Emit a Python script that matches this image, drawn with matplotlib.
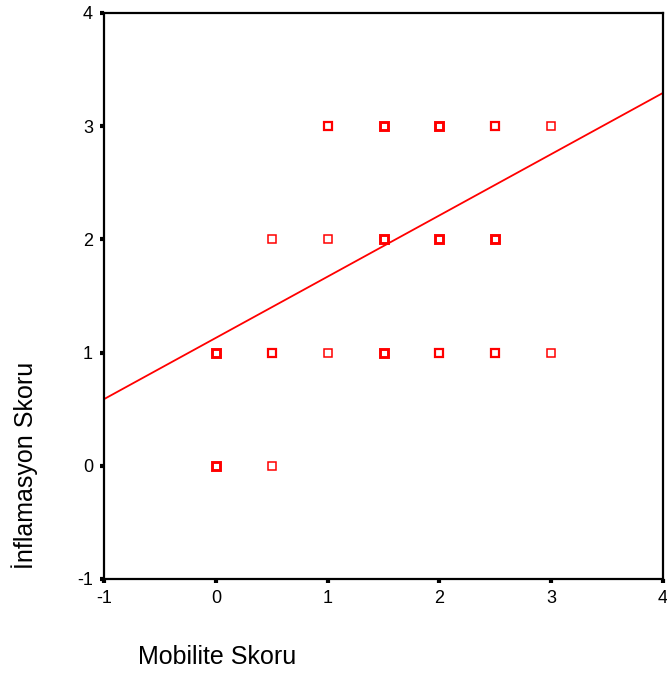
import numpy as np
import matplotlib
matplotlib.use("Agg")
import matplotlib.pyplot as plt

plt.rcParams['font.family'] = ['Liberation Sans', 'DejaVu Sans']

# Observed score pairs and how many cases fall on each pair
mobilite = [0, 0.5, 0, 0.5, 1, 1.5, 2, 2.5, 3, 0.5, 1, 1.5, 2, 2.5, 1, 1.5, 2, 2.5, 3]
inflamasyon = [0, 0, 1, 1, 1, 1, 1, 1, 1, 2, 2, 2, 2, 2, 3, 3, 3, 3, 3]
counts = [3, 1, 3, 2, 1, 3, 2, 2, 1, 1, 1, 3, 3, 3, 2, 3, 3, 2, 1]

# Fitted linear regression
intercept = 1.13
slope = 0.541

x_ticks = [-1, 0, 1, 2, 3, 4]
y_ticks = [-1, 0, 1, 2, 3, 4]

fig = plt.figure(figsize=(6.67, 6.73), dpi=100)
ax = fig.add_axes([0.156, 0.1397, 0.838, 0.841])

for x, y, c in zip(mobilite, inflamasyon, counts):
    lw = 1.1 if c == 1 else (1.6 if c == 2 else 2.1)
    ax.plot(x, y, marker='s', markersize=6, markerfacecolor='white',
            markeredgecolor='#ff0000', markeredgewidth=lw, linestyle='none')

xl = np.array([-1, 4])
ax.plot(xl, intercept + slope * xl, color='#ff0000', linewidth=1.3)

ax.set_xlim(-1, 4)
ax.set_ylim(-1, 4)
ax.set_xticks(x_ticks)
ax.set_yticks(y_ticks)
ax.set_xticklabels([str(t) for t in x_ticks])
ax.set_yticklabels([str(t) for t in y_ticks])
ax.tick_params(direction='out', length=3, width=3, labelsize=13, pad=5)
for s in ax.spines.values():
    s.set_linewidth(1.6)

fig.text(25 / 667, 1 - 465 / 673, 'İnflamasyon Skoru', rotation=90,
         ha='center', va='center', fontsize=18)
fig.text(138 / 667, 1 - 657 / 673, 'Mobilite Skoru', ha='left', va='center', fontsize=18)

fig.savefig('out.png', dpi=100, facecolor='white')
